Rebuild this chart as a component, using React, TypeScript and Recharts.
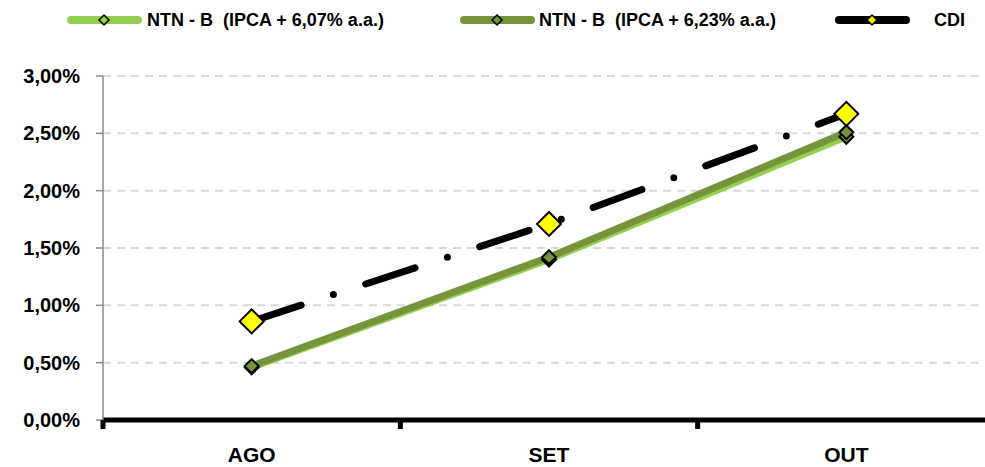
import { LineChart, Line, XAxis, YAxis, CartesianGrid, Legend } from 'recharts'

const months = ['AGO', 'SET', 'OUT']
const ntnb607 = [0.46, 1.4, 2.47]
const ntnb623 = [0.47, 1.42, 2.51]
const cdi = [0.86, 1.71, 2.67]
const yTicks = [0, 0.5, 1, 1.5, 2, 2.5, 3]

const LIGHT = '#92D050'
const OLIVE = '#77933C'
const FONT = '"Liberation Sans", Arial, sans-serif'

const data = months.map((m, i) => ({ month: m, ntnb607: ntnb607[i], ntnb623: ntnb623[i], cdi: cdi[i] }))

const fmtPct = (v: number) => v.toFixed(2).replace('.', ',') + '%'

const Diamond = ({ cx, cy, r, fill }: { cx?: number; cy?: number; r: number; fill: string }) => {
  if (cx == null || cy == null) return null
  return (
    <path
      d={`M${cx},${cy - r}L${cx + r},${cy}L${cx},${cy + r}L${cx - r},${cy}Z`}
      fill={fill}
      stroke="#000"
      strokeWidth={2}
      strokeLinejoin="miter"
    />
  )
}

const MonthTick = (props: any) => {
  const { x, y, payload } = props
  const half = payload.offset || 148.7
  return (
    <g>
      <line x1={x - half} x2={x - half} y1={y} y2={y + 9} stroke="#000" strokeWidth={5} />
      <text x={x} y={y} dy={42} textAnchor="middle" fontFamily={FONT} fontWeight="bold" fontSize={21} fill="#000">
        {payload.value}
      </text>
    </g>
  )
}

const legendItems = [
  { label: 'NTN - B  (IPCA + 6,07% a.a.)', color: LIGHT, marker: LIGHT, x: 59, tx: 139 },
  { label: 'NTN - B  (IPCA + 6,23% a.a.)', color: OLIVE, marker: OLIVE, x: 452, tx: 531 },
  { label: 'CDI', color: '#000', marker: '#FFFF00', x: 827, tx: 926 },
]

const LegendContent = () => (
  <svg width={990} height={68} style={{ display: 'block' }}>
    {legendItems.map((it) => (
      <g key={it.label}>
        <line x1={it.x + 4} x2={it.x + 71} y1={12} y2={12} stroke={it.color} strokeWidth={8} strokeLinecap="round" />
        <path
          d={`M${it.x + 37},${7}L${it.x + 42},${12}L${it.x + 37},${17}L${it.x + 32},${12}Z`}
          fill={it.marker}
          stroke="#000"
          strokeWidth={1.5}
        />
        <text x={it.tx} y={18} fontFamily={FONT} fontWeight="bold" fontSize={18} fill="#000" style={{ whiteSpace: 'pre' }}>
          {it.label}
        </text>
      </g>
    ))}
  </svg>
)

export default function App() {
  return (
    <div style={{ position: 'fixed', top: 8, left: 8, width: 977, height: 459, overflow: 'hidden', background: '#fff' }}>
      <LineChart width={990} height={459} data={data} margin={{ top: 0, right: 3, bottom: 2, left: 0 }}>
        <Legend verticalAlign="top" align="left" content={<LegendContent />} wrapperStyle={{ height: 68, top: 0, left: 0 }} />
        <CartesianGrid vertical={false} stroke="#d9d9d9" strokeWidth={2} strokeDasharray="8 6" />
        <XAxis
          dataKey="month"
          scale="band"
          axisLine={{ stroke: '#000', strokeWidth: 5 }}
          tickLine={false}
          tickSize={0}
          tickMargin={0}
          height={45}
          tick={<MonthTick />}
          interval={0}
        />
        <YAxis
          width={95}
          domain={[0, 3]}
          ticks={yTicks}
          tickFormatter={fmtPct}
          axisLine={{ stroke: '#8a8a8a', strokeWidth: 1.5 }}
          tickLine={{ stroke: '#8a8a8a', strokeWidth: 1.5 }}
          tickSize={7}
          tickMargin={16}
          tick={{ fill: '#000', fontFamily: FONT, fontWeight: 'bold', fontSize: 20 }}
        />
        <Line
          dataKey="ntnb607"
          stroke={LIGHT}
          strokeWidth={7}
          isAnimationActive={false}
          dot={(p: any) => <Diamond key={`a${p.index}`} cx={p.cx} cy={p.cy} r={7} fill={OLIVE} />}
        />
        <Line
          dataKey="ntnb623"
          stroke={OLIVE}
          strokeWidth={7}
          isAnimationActive={false}
          dot={(p: any) => <Diamond key={`b${p.index}`} cx={p.cx} cy={p.cy} r={7} fill={OLIVE} />}
        />
        <Line
          dataKey="cdi"
          stroke="#000"
          strokeWidth={7}
          strokeLinecap="round"
          strokeDasharray="52 34 0 34"
          isAnimationActive={false}
          dot={(p: any) => <Diamond key={`c${p.index}`} cx={p.cx} cy={p.cy} r={12} fill="#FFFF00" />}
        />
      </LineChart>
    </div>
  )
}
